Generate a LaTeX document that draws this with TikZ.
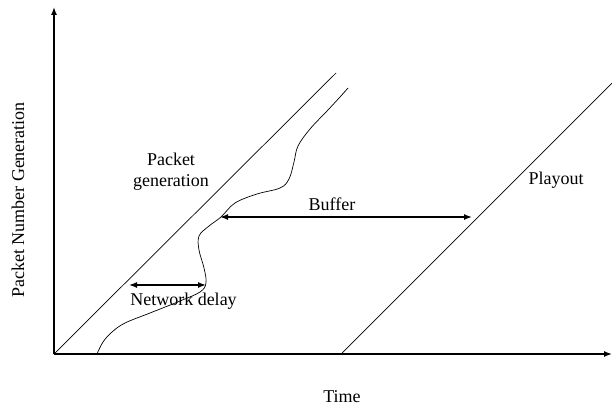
\documentclass[tikz,border=0pt]{standalone}
\usepackage{fontspec}
\setmainfont{Liberation Serif}
\usetikzlibrary{arrows.meta, positioning}

\begin{document}
\begin{tikzpicture}[x=1pt, y=-1pt,
    axis/.style={line width=1.4pt, -{Latex[length=8pt, width=6pt]}},
    gap/.style={line width=1.4pt, {Latex[length=8pt, width=6pt]}-{Latex[length=8pt, width=6pt]}},
    lbl/.style={font=\fontsize{18}{21}\selectfont, inner sep=0pt, align=center}]
    \useasboundingbox (0,0) rectangle (612,409);

    % axes
    \coordinate (O) at (54,354);
    \coordinate (ytop) at (54,7);
    \coordinate (xend) at (612,354);
    \draw[axis] (O) -- (ytop);
    \draw[axis] (O) -- (xend);
    \node[lbl, rotate=90] (ylab) at (18,200) {Packet Number Generation};
    \node[lbl] (xlab) at (342,397) {Time};

    % generation, arrival and playout
    \coordinate (gen-end) at (336,73);
    \coordinate (play-start) at (341,354);
    \coordinate (play-end) at (612,83);
    \draw[line width=0.7pt] (O) -- (gen-end);
    \draw[line width=0.7pt] (play-start) -- (play-end);
    \draw[line width=0.7pt] plot[smooth, tension=0.6] coordinates {
        (97,354) (103,342) (112,332) (125,323) (150,313) (180,301)
        (200,292) (206,283) (204,268) (199,250) (199,236) (209,226)
        (221,217) (235,203) (257,194) (280,188) (289,179) (294,162)
        (298,146) (310,129) (327,111) (340,97) (348,88)};

    % delays
    \coordinate (nd-l) at (129,285);
    \coordinate (nd-r) at (206,285);
    \coordinate (bf-l) at (220,217);
    \coordinate (bf-r) at (472,217);
    \draw[gap] (nd-l) -- (nd-r);
    \draw[gap] (bf-l) -- (bf-r);

    \node[lbl] (gen) at (171,172) {Packet\\generation};
    \node[lbl] (nd) at (183.5,301) {Network delay};
    \node[lbl] (bf) at (332,204) {Buffer};
    \node[lbl] (play) at (556,180) {Playout};
\end{tikzpicture}
\end{document}
